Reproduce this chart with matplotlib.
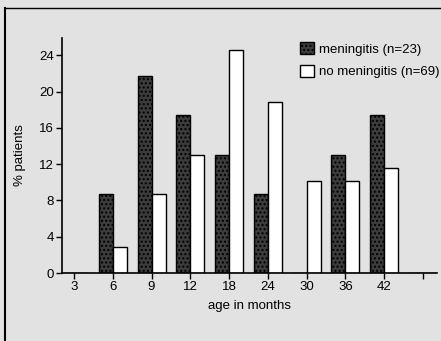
import numpy as np
import matplotlib.pyplot as plt
from matplotlib.lines import Line2D

# Data
ages = ['3', '6', '9', '12', '18', '24', '30', '36', '42', '']
meningitis = [0, 8.7, 21.7, 17.4, 13.0, 8.7, 0, 13.0, 17.4, 0]
no_meningitis = [0, 2.9, 8.7, 13.0, 24.6, 18.8, 10.1, 10.1, 11.6, 0]
yticks = [0, 4, 8, 12, 16, 20, 24]

bg = '#e2e2e2'
plt.rcParams['font.family'] = ['Liberation Sans', 'DejaVu Sans']

fig = plt.figure(figsize=(4.41, 3.41), dpi=100, facecolor=bg)
ax = fig.add_axes([0.1406, 0.1994, 0.850, 0.6892])
ax.set_facecolor(bg)

x = np.arange(len(ages))
w = 0.36
ax.bar(x - w/2, meningitis, w, color='#3c3c3c', edgecolor='black', lw=1.0,
       hatch='....', label='meningitis (n=23)')
ax.bar(x + w/2, no_meningitis, w, color='white', edgecolor='black', lw=1.0,
       label='no meningitis (n=69)')

ax.set_xlim(-0.31, 9.36)
ax.set_ylim(0, 25.9)
ax.set_xticks(x)
ax.set_xticklabels(ages)
ax.set_yticks(yticks)
ax.tick_params(direction='out', length=4, width=1, labelsize=9.5, pad=2)
for s in ['top', 'right']:
    ax.spines[s].set_visible(False)
for s in ['left', 'bottom']:
    ax.spines[s].set_linewidth(1.2)

ax.set_ylabel('% patients', fontsize=9.5, labelpad=9)
ax.set_xlabel('age in months', fontsize=9.5, labelpad=5)

ax.legend(loc='upper left', bbox_to_anchor=(300/441, 1 - 42/341),
          bbox_transform=fig.transFigure, frameon=False, borderpad=0,
          borderaxespad=0, fontsize=9.5, handlelength=1.05, handleheight=1.05,
          handletextpad=0.4, labelspacing=0.7)

# scanned frame edges
fig.add_artist(Line2D([0.011, 0.011], [0, 0.977], color='black', lw=1.5))
fig.add_artist(Line2D([0.011, 1.0], [0.977, 0.977], color='black', lw=1.0))

fig.savefig('out.png', dpi=100, facecolor=bg)
